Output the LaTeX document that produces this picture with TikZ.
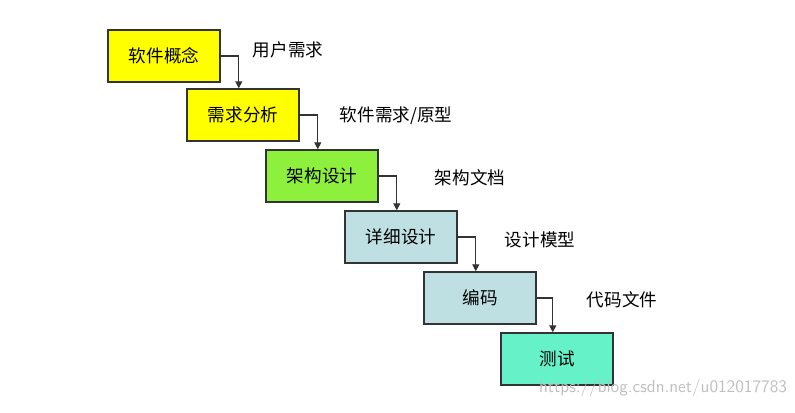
\documentclass[tikz,border=0pt]{standalone}
\usepackage{fontspec}
\newfontfamily\cjk{Noto Sans CJK SC}
\usetikzlibrary{arrows.meta}
\definecolor{stepyellow}{HTML}{FFFF00}
\definecolor{stepgreen}{HTML}{8CF03C}
\definecolor{stepblue}{HTML}{BFE0E2}
\definecolor{stepaqua}{HTML}{66F2C8}
\tikzset{
  stepbox/.style={draw=black!80, line width=1pt, minimum width=2.8cm, minimum height=1.3cm,
    font=\cjk\fontsize{12.5}{14}\selectfont},
  flow/.style={draw=black!80, line width=.8pt, -{Triangle[length=5pt,width=5pt]}},
  outlab/.style={font=\cjk\fontsize{12.5}{14}\selectfont, anchor=west}
}
\begin{document}
\begin{tikzpicture}[x=0.025cm,y=-0.025cm]
   \useasboundingbox[fill=white] (0,0) rectangle (795,413);

   \node[stepbox, fill=stepyellow] (concept) at (164,56) {软件概念};
   \node[stepbox, fill=stepyellow] (analysis) at (243,115) {需求分析};
   \node[stepbox, fill=stepgreen] (arch) at (322,176) {架构设计};
   \node[stepbox, fill=stepblue] (detail) at (401,237) {详细设计};
   \node[stepbox, fill=stepblue] (coding) at (480,298) {编码};
   \node[stepbox, fill=stepaqua] (test) at (557,359) {测试};

   \draw[flow] (concept.east) -| ([xshift=-3]analysis.north);
   \draw[flow] (analysis.east) -| ([xshift=-3]arch.north);
   \draw[flow] (arch.east) -| ([xshift=-3]detail.north);
   \draw[flow] (detail.east) -| ([xshift=-3]coding.north);
   \draw[flow] (coding.east) -| ([xshift=-3]test.north);

   \node[outlab] (req) at (248,50) {用户需求};
   \node[outlab] (proto) at (335,116) {软件需求/原型};
   \node[outlab] (archdoc) at (430,178) {架构文档};
   \node[outlab] (model) at (500,240) {设计模型};
   \node[outlab] (code) at (582,300) {代码文件};

   \node[anchor=south east, text=black!25, font=\sffamily\fontsize{12.5}{14}\selectfont]
     (mark) at (792,402) {https://blog.csdn.net/u012017783};
\end{tikzpicture}
\end{document}
